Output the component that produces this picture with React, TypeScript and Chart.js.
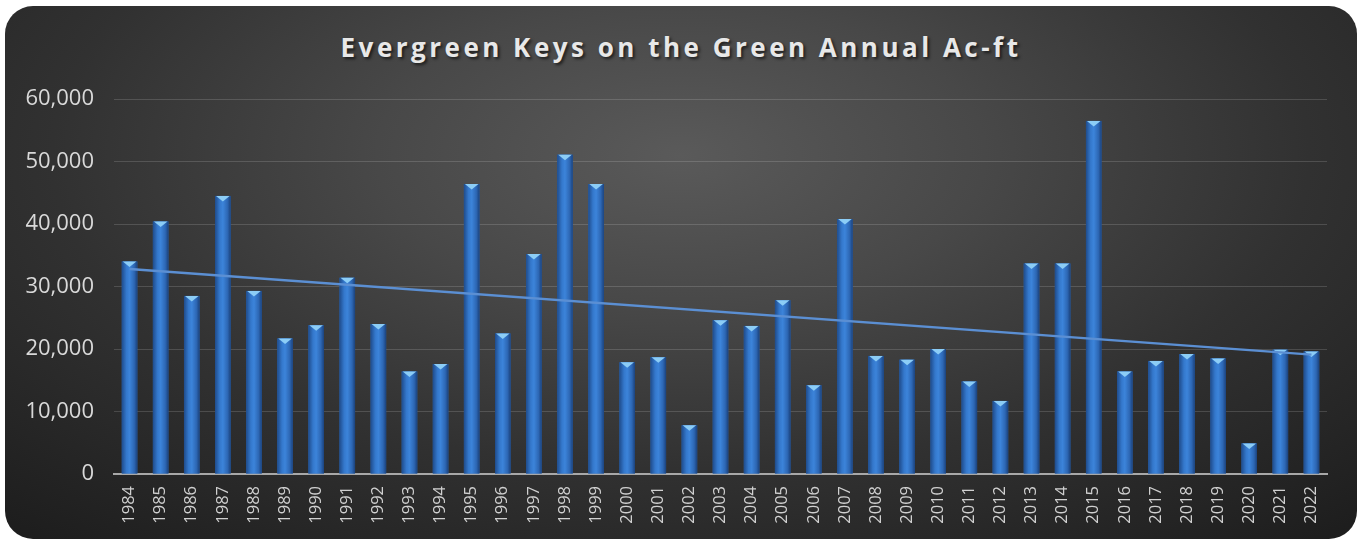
import { useEffect, useRef } from "react"
import { Chart, registerables, type ChartConfiguration, type Plugin } from "chart.js"

Chart.register(...registerables)

const years = [
  "1984", "1985", "1986", "1987", "1988", "1989", "1990", "1991", "1992", "1993",
  "1994", "1995", "1996", "1997", "1998", "1999", "2000", "2001", "2002", "2003",
  "2004", "2005", "2006", "2007", "2008", "2009", "2010", "2011", "2012", "2013",
  "2014", "2015", "2016", "2017", "2018", "2019", "2020", "2021", "2022",
]

const acreFeet = [
  34000, 40400, 28500, 44500, 29300, 21700, 23800, 31400, 24000, 16400,
  17600, 46400, 22500, 35200, 51100, 46400, 17900, 18700, 7800, 24600,
  23700, 27800, 14200, 40800, 18900, 18300, 20000, 14800, 11700, 33700,
  33700, 56500, 16400, 18100, 19200, 18500, 4900, 19900, 19600,
]

// linear trendline, end points
const trendStart = 32800
const trendEnd = 19100

const yMax = 60000
const yStep = 10000

const trendData = years.map((_, i) =>
  i === 0 ? trendStart : i === years.length - 1 ? trendEnd : null
)

// cylinder-ish shading + light chevron cap on each bar
const barShading: Plugin = {
  id: "barShading",
  afterDatasetDraw(chart, args) {
    if (args.index !== 0) return
    const ctx = chart.ctx
    const meta = chart.getDatasetMeta(0)
    ctx.save()
    meta.data.forEach((el) => {
      const { x, y, base, width } = el.getProps(["x", "y", "base", "width"], true) as any
      const left = x - width / 2
      const g = ctx.createLinearGradient(left, 0, left + width, 0)
      g.addColorStop(0, "#1f4c8c")
      g.addColorStop(0.3, "#3478cc")
      g.addColorStop(0.5, "#3c84da")
      g.addColorStop(0.8, "#2d67b4")
      g.addColorStop(1, "#1b427c")
      ctx.fillStyle = g
      ctx.fillRect(left, y, width, base - y)
      ctx.fillStyle = "#8ccdf6"
      ctx.beginPath()
      ctx.moveTo(left + 1, y)
      ctx.lineTo(left + width - 1, y)
      ctx.lineTo(x, y + 5.5)
      ctx.closePath()
      ctx.fill()
    })
    ctx.restore()
  },
}

export default function App() {
  const chartRef = useRef<HTMLCanvasElement>(null)
  const chartInstance = useRef<Chart | null>(null)

  useEffect(() => {
    if (!chartRef.current) return
    const ctx = chartRef.current.getContext("2d")
    if (!ctx) return

    if (chartInstance.current) {
      chartInstance.current.destroy()
    }

    const config: ChartConfiguration = {
      type: "bar",
      data: {
        labels: years,
        datasets: [
          {
            type: "bar",
            label: "Ac-ft",
            data: acreFeet,
            backgroundColor: "#2f6fc0",
            barPercentage: 0.5,
            categoryPercentage: 1,
            order: 1,
          },
          {
            type: "line",
            label: "Trend",
            data: trendData,
            borderColor: "#5b8fd3",
            borderWidth: 2.5,
            pointRadius: 0,
            spanGaps: true,
            order: 0,
          } as any,
        ],
      },
      options: {
        responsive: true,
        maintainAspectRatio: false,
        animation: false,
        layout: {
          padding: { top: 93, right: 30, bottom: 0, left: 0 },
        },
        scales: {
          y: {
            min: 0,
            max: yMax,
            border: { display: false },
            grid: {
              color: "rgba(255, 255, 255, 0.15)",
              lineWidth: 1,
              drawTicks: false,
            },
            ticks: {
              stepSize: yStep,
              padding: 20,
              color: "#d9d9d9",
              font: { family: "'Open Sans'", size: 22 },
              callback: (value) => Number(value).toLocaleString("en-US"),
            },
            afterFit: (scale) => {
              scale.width = 109
            },
          },
          x: {
            border: { display: true, color: "#a8a8a8", width: 2 },
            grid: { display: false, drawTicks: false },
            ticks: {
              color: "#d0d0d0",
              font: { family: "'Open Sans'", size: 16.5 },
              minRotation: 90,
              maxRotation: 90,
              padding: 12,
              autoSkip: false,
            },
            afterFit: (scale) => {
              scale.height = 65
            },
          },
        },
        plugins: {
          legend: { display: false },
          tooltip: { enabled: false },
        },
      },
      plugins: [barShading],
    }

    chartInstance.current = new Chart(ctx, config)

    return () => {
      if (chartInstance.current) {
        chartInstance.current.destroy()
      }
    }
  }, [])

  return (
    <div
      style={{
        position: "fixed",
        left: 0,
        top: 0,
        width: 1362,
        height: 542,
        background: "#ffffff",
      }}
    >
      <div
        style={{
          position: "absolute",
          left: 5,
          top: 6,
          width: 1352,
          height: 533,
          borderRadius: 28,
          overflow: "hidden",
          background:
            "radial-gradient(ellipse 75% 95% at 50% 28%, #5a5a5a 0%, #484848 30%, #313131 62%, #1d1d1d 100%)",
        }}
      >
        <div
          style={{
            position: "absolute",
            left: 0,
            right: 0,
            top: 23,
            textAlign: "center",
            fontFamily: "'Open Sans', sans-serif",
            fontWeight: 700,
            fontSize: 26,
            letterSpacing: 3.5,
            color: "#e8e8e8",
            textShadow: "2px 2px 3px rgba(0,0,0,0.6)",
          }}
        >
          Evergreen Keys on the Green Annual Ac-ft
        </div>
        <div style={{ position: "absolute", inset: 0 }}>
          <canvas ref={chartRef} />
        </div>
      </div>
    </div>
  )
}
